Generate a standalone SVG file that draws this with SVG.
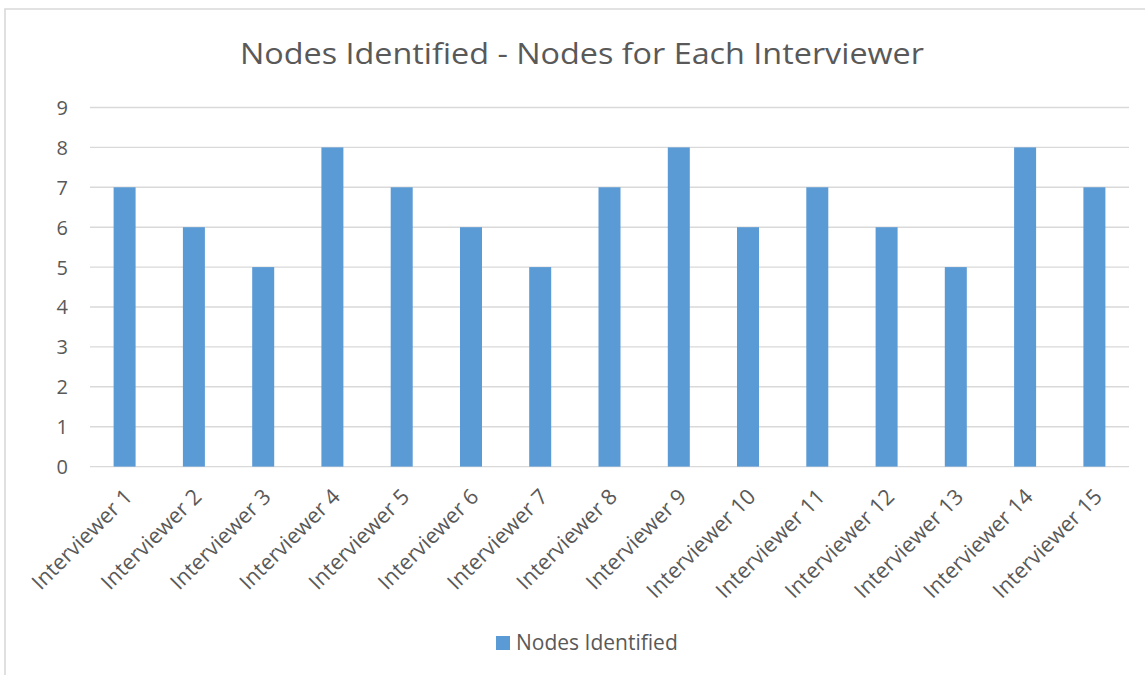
<svg xmlns="http://www.w3.org/2000/svg" width="1145" height="675" viewBox="0 0 1145 675">
<style>
.grid{stroke:#D9D9D9;stroke-width:1.4;fill:none}
.bar{fill:#5B9BD5}
.t{font-family:"Open Sans","Liberation Sans",sans-serif;fill:#595959}
.ylab{font-size:20px;text-anchor:end}
.xlab{font-size:21.5px;text-anchor:end}
</style>
<rect x="0" y="0" width="1145" height="675" fill="#FFFFFF"/>
<path d="M5,675 V9 H1145" stroke="#D9D9D9" stroke-width="1.6" fill="none"/>
<text id="title" class="t" x="582" y="64" font-size="30" text-anchor="middle" textLength="684" lengthAdjust="spacingAndGlyphs">Nodes Identified - Nodes for Each Interviewer</text>
<g id="gridlines">
<line class="grid" x1="90" y1="107.5" x2="1129" y2="107.5"/>
<line class="grid" x1="90" y1="147.4" x2="1129" y2="147.4"/>
<line class="grid" x1="90" y1="187.3" x2="1129" y2="187.3"/>
<line class="grid" x1="90" y1="227.2" x2="1129" y2="227.2"/>
<line class="grid" x1="90" y1="267.1" x2="1129" y2="267.1"/>
<line class="grid" x1="90" y1="307" x2="1129" y2="307"/>
<line class="grid" x1="90" y1="346.9" x2="1129" y2="346.9"/>
<line class="grid" x1="90" y1="386.8" x2="1129" y2="386.8"/>
<line class="grid" x1="90" y1="426.7" x2="1129" y2="426.7"/>
<line class="grid" x1="90" y1="466.6" x2="1129" y2="466.6"/>
</g>
<g id="yaxis" class="t ylab">
<text x="68" y="115">9</text>
<text x="68" y="155">8</text>
<text x="68" y="195">7</text>
<text x="68" y="235">6</text>
<text x="68" y="275">5</text>
<text x="68" y="314">4</text>
<text x="68" y="354">3</text>
<text x="68" y="394">2</text>
<text x="68" y="434">1</text>
<text x="68" y="474">0</text>
</g>
<g id="bars">
<rect id="b1" class="bar" x="113.6" y="187.3" width="22" height="279.3"/>
<rect id="b2" class="bar" x="182.9" y="227.2" width="22" height="239.4"/>
<rect id="b3" class="bar" x="252.2" y="267.1" width="22" height="199.5"/>
<rect id="b4" class="bar" x="321.4" y="147.4" width="22" height="319.2"/>
<rect id="b5" class="bar" x="390.7" y="187.3" width="22" height="279.3"/>
<rect id="b6" class="bar" x="460.0" y="227.2" width="22" height="239.4"/>
<rect id="b7" class="bar" x="529.2" y="267.1" width="22" height="199.5"/>
<rect id="b8" class="bar" x="598.5" y="187.3" width="22" height="279.3"/>
<rect id="b9" class="bar" x="667.8" y="147.4" width="22" height="319.2"/>
<rect id="b10" class="bar" x="737.0" y="227.2" width="22" height="239.4"/>
<rect id="b11" class="bar" x="806.3" y="187.3" width="22" height="279.3"/>
<rect id="b12" class="bar" x="875.6" y="227.2" width="22" height="239.4"/>
<rect id="b13" class="bar" x="944.8" y="267.1" width="22" height="199.5"/>
<rect id="b14" class="bar" x="1014.1" y="147.4" width="22" height="319.2"/>
<rect id="b15" class="bar" x="1083.4" y="187.3" width="22" height="279.3"/>
</g>
<g id="xaxis" class="t xlab">
<text transform="translate(133.6,498) rotate(-45)">Interviewer 1</text>
<text transform="translate(202.9,498) rotate(-45)">Interviewer 2</text>
<text transform="translate(272.2,498) rotate(-45)">Interviewer 3</text>
<text transform="translate(341.4,498) rotate(-45)">Interviewer 4</text>
<text transform="translate(410.7,498) rotate(-45)">Interviewer 5</text>
<text transform="translate(480.0,498) rotate(-45)">Interviewer 6</text>
<text transform="translate(549.2,498) rotate(-45)">Interviewer 7</text>
<text transform="translate(618.5,498) rotate(-45)">Interviewer 8</text>
<text transform="translate(687.8,498) rotate(-45)">Interviewer 9</text>
<text transform="translate(757.0,498) rotate(-45)">Interviewer 10</text>
<text transform="translate(826.3,498) rotate(-45)">Interviewer 11</text>
<text transform="translate(895.6,498) rotate(-45)">Interviewer 12</text>
<text transform="translate(964.8,498) rotate(-45)">Interviewer 13</text>
<text transform="translate(1034.1,498) rotate(-45)">Interviewer 14</text>
<text transform="translate(1103.4,498) rotate(-45)">Interviewer 15</text>
</g>
<g id="legend">
<rect x="496" y="636" width="14" height="14" class="bar"/>
<text class="t" x="516" y="650" font-size="21">Nodes Identified</text>
</g>
</svg>
